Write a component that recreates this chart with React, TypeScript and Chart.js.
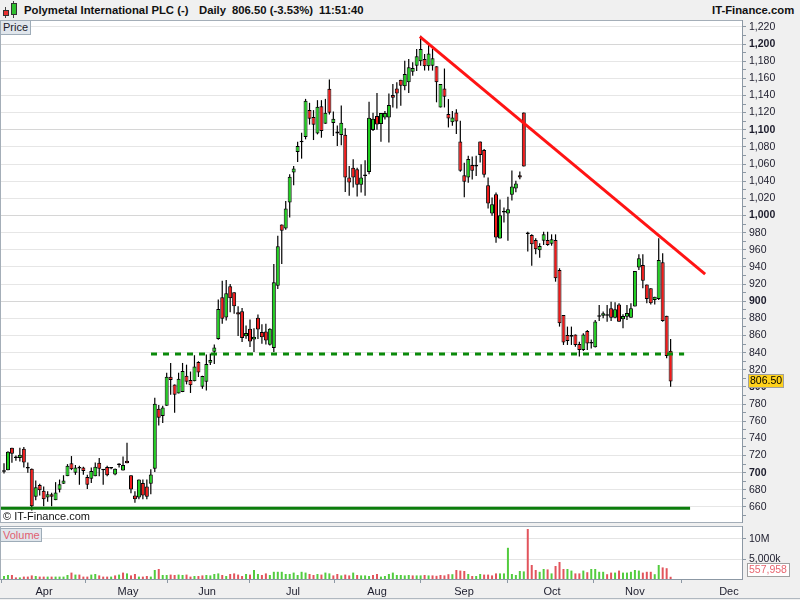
import React, { useEffect, useRef } from "react";
import { Chart, registerables } from "chart.js";

Chart.register(...registerables);

const FONT = '"Liberation Sans", Arial, Helvetica, sans-serif';
Chart.defaults.font.family = FONT;

// ---------------- data (daily candles, GBp) ----------------
const opens = [
  701, 703, 729, 717, 717, 728, 705, 704.6, 672, 685.6,
  679, 671, 675, 668, 680, 687, 696, 711, 700, 705,
  706, 695, 693, 696, 711.6, 703, 706.6, 705, 698, 709,
  702.7, 714, 697, 673.5, 671, 688, 684, 687, 704.6, 774.6,
  766, 778, 812, 803, 792.5, 794, 813, 808, 806.6, 829,
  800.3, 806.2, 828.3, 841, 856, 904.7, 881, 917.4, 910.5, 887.2,
  888.4, 859, 867.8, 855.4, 880.6, 864, 864.7, 849.2, 845.4, 918,
  989.5, 984.9, 1015, 1050, 1074, 1085.5, 1091.5, 1122.9, 1115, 1095.7,
  1127.5, 1107, 1147.7, 1108, 1095.7, 1093.8, 1094.2, 1044.2, 1055.8, 1053.9,
  1035.7, 1046.1, 1050.8, 1099.6, 1116, 1106.6, 1114.4, 1114.4, 1140.5, 1148.2,
  1158.4, 1150.6, 1155.3, 1167.7, 1174.7, 1179.8, 1182.5, 1174, 1174.7, 1174,
  1126, 1148.2, 1118.3, 1108.6, 1120.2, 1086.4, 1047, 1044.4, 1058.8, 1058.8,
  1086.4, 1076.3, 1035.4, 1002.3, 1024.9, 973.2, 1003.5, 1002.3, 1024.1, 1031.5,
  1047, 1120.2, 978.5, 977.2, 971.4, 959.4, 970.6, 971.4, 967.1, 971.4,
  936.5, 883.9, 860.5, 860.5, 861.3, 850, 843, 865.2, 852, 846.2,
  882, 883.2, 883, 891.7, 880.8, 896.3, 878.9, 882, 880.8, 893.7,
  939.2, 942.3, 919.6, 915, 901.4, 902.6, 945.4, 883.2, 842.3,
];
const highs = [
  711, 725, 729, 720, 729, 730, 712, 705, 691, 687,
  684, 678.5, 676.6, 689, 692, 697, 710, 719.4, 709, 708,
  707, 697.5, 706, 712, 717, 704, 708, 706, 705, 711,
  719, 735, 697, 678.5, 692, 692, 692, 704, 787.5, 779,
  778, 816.6, 828, 803, 816.6, 828, 826, 818, 837, 830,
  813, 838, 839, 849.6, 902, 924, 924.8, 920, 910.5, 894,
  892.2, 871.7, 878.7, 868.6, 884.5, 873, 873.6, 868.6, 943.4, 976.4,
  989.5, 1017, 1048, 1057.8, 1086, 1096.5, 1136, 1131.4, 1122.9, 1134.5,
  1134.5, 1136, 1158.5, 1121.3, 1105, 1128.3, 1101.6, 1057.8, 1065.5, 1055.8,
  1059.7, 1064.3, 1132.6, 1119.8, 1143, 1119.5, 1122, 1142.4, 1153.3, 1155.3,
  1158.4, 1180.5, 1182.5, 1178.6, 1194.2, 1209.7, 1188.3, 1198.8, 1194.2, 1174,
  1153.3, 1171.4, 1135.8, 1122, 1124, 1110.5, 1061.5, 1069.6, 1068.9, 1069.6,
  1086.4, 1077.4, 1044.4, 1021, 1026.8, 1018.7, 1009.3, 1021.8, 1052.5, 1040.5,
  1051.4, 1120.2, 981, 978, 973.4, 967.5, 981.1, 981.1, 978, 978,
  938.4, 883.9, 870.4, 870.4, 861.3, 852.7, 862.5, 866.3, 855.4, 878,
  895.5, 888, 895.5, 899.5, 898.7, 897.5, 884.7, 895.5, 897.5, 935.3,
  954.7, 954.7, 919.6, 915, 905.3, 973.4, 955.9, 883.2, 855.8,
];
const lows = [
  699, 703, 711.6, 714, 713, 706, 700, 656, 668, 673.5,
  661, 666, 661, 668, 677, 687, 696, 703, 697.5, 686,
  697.5, 681, 688, 696, 696, 686, 696, 704, 697, 706,
  702.7, 711, 676, 665, 669, 669, 669, 675, 700.7, 755,
  758, 778, 791, 770, 792.5, 794, 803, 793, 806.6, 811.6,
  798, 796, 825.6, 826.7, 855, 873.6, 877.5, 887.2, 885.3, 859.3,
  852.3, 856.2, 846.5, 840.7, 856, 850.4, 849.6, 848.4, 840.7, 914.3,
  943.4, 983.3, 997.7, 1035.3, 1062.4, 1066.3, 1088.8, 1106, 1088, 1094.6,
  1090.7, 1107, 1117.8, 1092.6, 1081, 1081.8, 1027.5, 1022.9, 1032.6, 1022.1,
  1026.7, 1022.9, 1048, 1098.4, 1100, 1086, 1112, 1085.2, 1126, 1124.9,
  1128, 1146, 1143, 1163, 1168.5, 1174.7, 1169, 1169, 1169, 1132,
  1126, 1126, 1102.7, 1104.7, 1094.9, 1051, 1021.4, 1038.1, 1042, 1046,
  1061.9, 1044.4, 1008.2, 999.6, 968.1, 973.2, 991.8, 970.6, 1017.5, 1027.2,
  1042.4, 1057.2, 958, 941.5, 954.7, 950.8, 965.6, 964.8, 964.8, 922.8,
  870.4, 849, 849, 849, 846.9, 835.4, 841.9, 843, 845, 846,
  876.8, 880, 876, 876.8, 880, 876.1, 868.5, 878, 880.8, 893.7,
  936.5, 915, 897.5, 896.3, 896.3, 901.4, 876.1, 833.4, 800.3,
];
const closes = [
  702, 724.5, 722, 717.5, 721, 712, 705.5, 661, 683, 679.4,
  669, 675, 672, 677, 686.5, 691, 708, 704, 706, 705.5,
  702, 686, 702, 707, 704.6, 703.5, 697, 705.5, 704.6, 709.5,
  709, 711, 680.5, 669, 692, 673.5, 672, 698, 780.5, 764,
  776, 812, 808, 791, 809.6, 818.6, 806, 802, 824, 817,
  812.8, 826.7, 831.4, 846, 891, 879.5, 909.3, 903.5, 894, 884.5,
  857, 862.8, 853, 858.5, 867, 858, 854.3, 867.8, 922, 964,
  982.2, 1008.1, 1045.3, 1054.7, 1081, 1086.5, 1133.7, 1112.8, 1105.8, 1126.7,
  1098.4, 1119.8, 1119.8, 1112.8, 1098, 1108.1, 1044.2, 1038.4, 1044.2, 1035.7,
  1044.2, 1047.7, 1114, 1112.8, 1106, 1119.5, 1119.5, 1128.8, 1137.4, 1142.4,
  1151.4, 1165, 1172.8, 1172, 1185.6, 1194.2, 1174, 1189, 1183.3, 1155.3,
  1153.3, 1138.5, 1113.2, 1114.4, 1109.7, 1052.1, 1039.3, 1065.8, 1052.1, 1057.2,
  1070.4, 1047.5, 1014, 1013.2, 974.3, 1000.4, 1004.7, 1007.4, 1033.9, 1037.4,
  1044.4, 1057.2, 979.5, 966.4, 960.5, 964.4, 978, 965.6, 972.2, 926.7,
  874.3, 852, 853.5, 858.6, 848.8, 843, 861.3, 850.8, 850.8, 876.4,
  882.5, 885.9, 883.5, 880.8, 890.5, 876.1, 882.8, 886.3, 891.7, 935.3,
  950, 924, 902.6, 897.5, 905.3, 948.1, 876.9, 836, 806.5,
];
// volume in millions of shares
const volumes = [
  0.75, 1.0, 1.0, 0.4, 0.4, 0.6, 0.6, 0.9, 0.75, 0.6,
  0.6, 0.6, 0.6, 0.6, 0.6, 0.6, 1.0, 1.6, 1.1, 1.1,
  0.6, 0.6, 1.1, 1.25, 0.9, 0.6, 0.6, 0.6, 0.9, 1.1,
  1.6, 1.4, 0.9, 1.25, 0.6, 0.6, 0.75, 0.6, 2.25, 2.5,
  1.0, 1.0, 1.1, 1.0, 1.1, 1.0, 1.1, 0.6, 0.75, 0.75,
  0.9, 1.0, 0.9, 1.25, 1.4, 1.0, 0.75, 1.25, 1.4, 1.1,
  0.75, 1.25, 1.1, 2.25, 1.25, 1.0, 1.4, 1.0, 1.8, 1.8,
  1.8, 1.25, 1.25, 1.6, 1.0, 1.8, 1.6, 1.25, 1.0, 1.25,
  1.1, 1.6, 1.4, 0.9, 1.25, 0.9, 1.1, 0.9, 1.6, 1.0,
  0.9, 0.9, 0.75, 1.0, 1.25, 0.6, 0.75, 1.25, 1.6, 1.0,
  1.0, 0.9, 1.0, 0.9, 0.9, 0.9, 1.0, 0.9, 0.9, 0.8,
  1.0, 0.9, 1.2, 1.2, 2.25, 2.1, 2.0, 1.25, 0.75, 0.75,
  1.25, 1.1, 1.1, 0.9, 1.4, 1.4, 1.4, 7.8, 1.25, 1.0,
  2.0, 1.9, 12.5, 3.5, 2.25, 1.8, 2.5, 2.4, 1.4, 3.25,
  4.25, 2.5, 2.5, 2.1, 1.4, 1.4, 2.1, 1.7, 2.5, 2.5,
  1.8, 1.8, 1.2, 1.6, 1.6, 2.1, 1.6, 1.6, 1.8, 2.25,
  2.1, 1.6, 1.8, 1.8, 1.2, 3.5, 2.9, 2.7, 0.557958,
];

const monthLabels = ["Apr", "May", "Jun", "Jul", "Aug", "Sep", "Oct", "Nov", "Dec"];
const monthTickIndex = [10.08, 31.25, 51.16, 72.83, 94.0, 115.93, 138.1, 159.0, 182.7];

const volumeTickValues = [5, 10];
const volumeTickLabels = ["5,000k", "10M"];

const resistanceLine = [{ x: 104.8, y: 1208.5 }, { x: 176.7, y: 931.5 }];
const supportLine = [{ x: 37.05, y: 838.4 }, { x: 171.4, y: 838.4 }];
const floorLine = [{ x: -1.008, y: 658.6 }, { x: 172.9, y: 658.6 }];

const instrument = "Polymetal International PLC (-)";
const periodLabel = "Daily";
const timeLabel = "11:51:40";
const siteLabel = "IT-Finance.com";

// ---------------- layout constants ----------------
const X_MIN = -1.008;
const X_MAX = 185.99;
const PRICE_MIN = 641.33;
const PRICE_MAX = 1228;
const VOL_MAX = 13.25;
const AXIS_W = 58;
const GREEN = "#1ed21e";
const RED = "#f41818";
const VOL_GREEN = "#52cc3e";
const VOL_RED = "#e2545c";
const AXIS_COLOR = "#8c98a4";
const FRAME_COLOR = "#a4aeb8";

const priceTickValues: number[] = [];
for (let v = 650; v <= 1220; v += 10) priceTickValues.push(v);

const N = closes.length;
const lastClose = closes[N - 1];
const prevClose = closes[N - 2];
const changePct = ((lastClose / prevClose - 1) * 100).toFixed(2);

function framePlugin(badge: (chart: any) => void, drawTop: boolean, drawBottom: boolean) {
  return {
    id: "frame",
    beforeDraw(chart: any) {
      const { ctx, chartArea: a } = chart;
      ctx.save();
      ctx.fillStyle = "#ffffff";
      ctx.fillRect(a.left, a.top, a.right - a.left, a.bottom - a.top);
      ctx.restore();
    },
    afterDraw(chart: any) {
      const { ctx, chartArea: a } = chart;
      ctx.save();
      ctx.strokeStyle = FRAME_COLOR;
      ctx.lineWidth = 1;
      ctx.beginPath();
      ctx.moveTo(a.left + 0.5, a.top);
      ctx.lineTo(a.left + 0.5, a.bottom);
      if (drawTop) {
        ctx.moveTo(a.left, a.top + 0.5);
        ctx.lineTo(a.right, a.top + 0.5);
      }
      if (drawBottom) {
        ctx.moveTo(a.left, a.bottom - 0.5);
        ctx.lineTo(a.right, a.bottom - 0.5);
      }
      ctx.stroke();
      ctx.restore();
      badge(chart);
    },
  };
}

function priceBadge(chart: any) {
  const { ctx } = chart;
  const y = chart.scales.y.getPixelForValue(lastClose);
  const left = chart.scales.y.left + 6;
  ctx.save();
  ctx.fillStyle = "#ffd21c";
  ctx.fillRect(left, Math.round(y) - 7, 36, 14);
  ctx.strokeStyle = "#a0a0a0";
  ctx.lineWidth = 1;
  ctx.strokeRect(left + 0.5, Math.round(y) - 6.5, 35, 13);
  ctx.fillStyle = "#000";
  ctx.font = `10.5px ${FONT}`;
  ctx.textBaseline = "middle";
  ctx.textAlign = "left";
  ctx.fillText(lastClose.toFixed(2), left + 2, Math.round(y) + 0.5);
  ctx.restore();
}

function volumeBadge(chart: any) {
  const { ctx, chartArea: a } = chart;
  const lastVol = volumes[N - 1];
  let y = chart.scales.y.getPixelForValue(lastVol);
  y = Math.min(y, a.bottom - 9);
  const left = chart.scales.y.left + 5;
  ctx.save();
  ctx.fillStyle = "#ffffff";
  ctx.fillRect(left, Math.round(y) - 7, 43, 14);
  ctx.strokeStyle = "#a0a0a0";
  ctx.lineWidth = 1;
  ctx.strokeRect(left + 0.5, Math.round(y) - 6.5, 42, 13);
  ctx.fillStyle = "#e8656f";
  ctx.font = `10.5px ${FONT}`;
  ctx.textBaseline = "middle";
  ctx.textAlign = "left";
  ctx.fillText(Math.round(lastVol * 1e6).toLocaleString("en-US"), left + 2, Math.round(y) + 0.5);
  ctx.restore();
}

function priceConfig(): any {
  const wickData = closes.map((_, i) => ({ x: i, y: [lows[i], highs[i]] }));
  const bodyData = closes.map((c, i) => ({ x: i, y: [Math.min(opens[i], c), Math.max(opens[i], c)] }));
  const bodyColors = closes.map((c, i) => (c >= opens[i] ? GREEN : RED));
  return {
    type: "bar",
    data: {
      datasets: [
        {
          type: "line",
          data: resistanceLine,
          borderColor: "#ff1414",
          borderWidth: 3,
          pointRadius: 0,
          fill: false,
          order: 0,
        },
        {
          type: "line",
          data: supportLine,
          borderColor: "#0a8a0a",
          borderWidth: 3,
          borderDash: [6, 6],
          pointRadius: 0,
          fill: false,
          order: 0,
        },
        {
          type: "line",
          data: floorLine,
          borderColor: "#0b7d0b",
          borderWidth: 3,
          pointRadius: 0,
          fill: false,
          order: 0,
        },
        {
          data: bodyData,
          backgroundColor: bodyColors,
          borderColor: "#000",
          borderWidth: 1,
          borderSkipped: false,
          barThickness: 4,
          minBarLength: 1.5,
          grouped: false,
          inflateAmount: 0,
          order: 1,
        },
        {
          data: wickData,
          backgroundColor: "#000",
          borderWidth: 0,
          barThickness: 1.2,
          grouped: false,
          inflateAmount: 0,
          order: 2,
        },
      ],
    },
    options: {
      responsive: false,
      animation: false,
      events: [],
      layout: { padding: 0 },
      plugins: { legend: { display: false }, tooltip: { enabled: false } },
      scales: {
        x: { type: "linear", min: X_MIN, max: X_MAX, display: false, offset: false },
        y: {
          position: "right",
          min: PRICE_MIN,
          max: PRICE_MAX,
          afterBuildTicks: (s: any) => {
            s.ticks = priceTickValues.map((v) => ({ value: v }));
          },
          afterFit: (s: any) => {
            s.width = AXIS_W;
            s.paddingTop = 0;
            s.paddingBottom = 0;
          },
          border: { display: true, color: AXIS_COLOR },
          grid: {
            color: (ctx: any) => {
              const v = ctx.tick ? ctx.tick.value : 0;
              if (v % 100 === 0) return "#d6d6d6";
              if (v % 20 === 0) return "#e6e6e6";
              return "rgba(0,0,0,0)";
            },
            tickColor: AXIS_COLOR,
            tickLength: 4,
            lineWidth: 1,
          },
          ticks: {
            autoSkip: false,
            padding: 3,
            color: "#1c1c2c",
            font: (ctx: any) => ({
              family: FONT,
              size: 10.5,
              weight: ctx.tick && ctx.tick.value % 100 === 0 ? "bold" : "normal",
            }),
            callback: (v: number) => (v % 20 === 0 ? v.toLocaleString("en-US") : ""),
          },
        },
      },
    },
    plugins: [framePlugin(priceBadge, true, true)],
  };
}

function volumeConfig(): any {
  const volData = volumes.map((v, i) => ({ x: i, y: v }));
  const volColors = volumes.map((_, i) => (i === 0 || closes[i] >= closes[i - 1] ? VOL_GREEN : VOL_RED));
  return {
    type: "bar",
    data: {
      datasets: [
        {
          data: volData,
          backgroundColor: volColors,
          borderWidth: 0,
          barThickness: 2,
          grouped: false,
          inflateAmount: 0,
        },
      ],
    },
    options: {
      responsive: false,
      animation: false,
      events: [],
      layout: { padding: { top: 2, left: 0, right: 0, bottom: 0 } },
      plugins: { legend: { display: false }, tooltip: { enabled: false } },
      scales: {
        x: {
          type: "linear",
          min: X_MIN,
          max: X_MAX,
          offset: false,
          afterBuildTicks: (s: any) => {
            s.ticks = monthTickIndex.map((v) => ({ value: v }));
          },
          afterFit: (s: any) => {
            s.height = 21;
          },
          border: { display: true, color: AXIS_COLOR },
          grid: { drawOnChartArea: false, tickLength: 4, tickColor: AXIS_COLOR },
          ticks: {
            autoSkip: false,
            maxRotation: 0,
            padding: 2,
            color: "#1c1c2c",
            font: { family: FONT, size: 11 },
            callback: (_v: number, i: number) => monthLabels[i],
          },
        },
        y: {
          position: "right",
          min: 0,
          max: VOL_MAX,
          afterBuildTicks: (s: any) => {
            s.ticks = volumeTickValues.map((v) => ({ value: v }));
          },
          afterFit: (s: any) => {
            s.width = AXIS_W;
            s.paddingTop = 0;
            s.paddingBottom = 0;
          },
          border: { display: true, color: AXIS_COLOR },
          grid: { color: "#e4e4e4", tickColor: AXIS_COLOR, tickLength: 4 },
          ticks: {
            autoSkip: false,
            padding: 3,
            color: "#1c1c2c",
            font: { family: FONT, size: 10.5 },
            callback: (_v: number, i: number) => volumeTickLabels[i],
          },
        },
      },
    },
    plugins: [framePlugin(volumeBadge, true, false)],
  };
}

const boxStyle: React.CSSProperties = {
  position: "absolute",
  background: "#e0e6ec",
  border: "1px solid #9eacb8",
  fontSize: 11,
  lineHeight: "12px",
  padding: "0 2px",
  boxSizing: "border-box",
};

export default function App() {
  const priceRef = useRef<HTMLCanvasElement>(null);
  const volRef = useRef<HTMLCanvasElement>(null);

  useEffect(() => {
    document.body.style.margin = "0";
    const pc = new Chart(priceRef.current as HTMLCanvasElement, priceConfig());
    const vc = new Chart(volRef.current as HTMLCanvasElement, volumeConfig());
    return () => {
      pc.destroy();
      vc.destroy();
    };
  }, []);

  const headerText: React.CSSProperties = {
    position: "absolute",
    top: 3,
    fontSize: 11.3,
    fontWeight: "bold",
    lineHeight: "14px",
    whiteSpace: "pre",
    color: "#111",
  };

  return (
    <div
      style={{
        position: "absolute",
        left: 0,
        top: 0,
        width: 800,
        height: 600,
        background: "#f0f0f0",
        overflow: "hidden",
        fontFamily: FONT,
      }}
    >
      {/* header */}
      <div style={{ position: "absolute", left: 0, top: 0, width: 800, height: 20 }}>
        <div style={{ position: "absolute", left: 5, top: 7, width: 1, height: 11, background: "#444" }} />
        <div style={{ position: "absolute", left: 3, top: 10, width: 6, height: 6, background: "#e83030", border: "1px solid #333", boxSizing: "border-box" }} />
        <div style={{ position: "absolute", left: 13, top: 1, width: 1, height: 17, background: "#444" }} />
        <div style={{ position: "absolute", left: 11, top: 3, width: 6, height: 12, background: "#30c030", border: "1px solid #333", boxSizing: "border-box" }} />
        <span style={{ ...headerText, left: 24 }}>{instrument}</span>
        <span style={{ ...headerText, left: 199 }}>{periodLabel}</span>
        <span style={{ ...headerText, left: 232 }}>{`${lastClose.toFixed(2)} (${changePct}%)`}</span>
        <span style={{ ...headerText, left: 319 }}>{timeLabel}</span>
        <span style={{ ...headerText, left: 712 }}>{siteLabel}</span>
      </div>

      {/* price panel */}
      <div style={{ position: "absolute", left: 0, top: 20, width: 800, height: 503 }}>
        <canvas ref={priceRef} width={800} height={503} style={{ display: "block" }} />
      </div>
      <div style={{ ...boxStyle, left: 0, top: 20, width: 31, height: 15, color: "#1a1a2a" }}>Price</div>
      <div style={{ position: "absolute", left: 3, top: 510, fontSize: 11, lineHeight: "12px", color: "#111" }}>
        © IT-Finance.com
      </div>

      {/* volume panel */}
      <div style={{ position: "absolute", left: 0, top: 524, width: 800, height: 76 }}>
        <canvas ref={volRef} width={800} height={76} style={{ display: "block" }} />
      </div>
      <div style={{ ...boxStyle, left: 0, top: 528, width: 42, height: 14, color: "#e06070" }}>Volume</div>

      <div style={{ position: "absolute", left: 0, top: 598, width: 800, height: 1, background: "#b0b8c0" }} />
    </div>
  );
}
